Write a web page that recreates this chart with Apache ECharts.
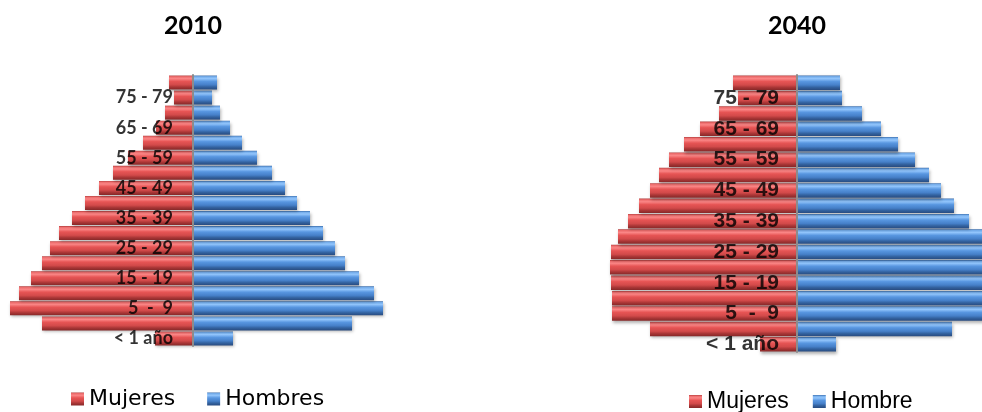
<!DOCTYPE html>
<html>
<head>
<meta charset="utf-8">
<script src="https://cdn.jsdelivr.net/npm/echarts@6/dist/echarts.min.js"></script>
<style>
  html, body { margin: 0; padding: 0; background: #ffffff; }
  #chart { width: 982px; height: 412px; }
</style>
</head>
<body>
<div id="chart"></div>
<script>
// Age groups, youngest at the bottom of each pyramid
const ageGroups = ['< 1 año', '1 - 4', '5  -  9', '10 - 14', '15 - 19', '20 - 24', '25 - 29',
  '30 - 34', '35 - 39', '40 - 44', '45 - 49', '50 - 54', '55 - 59', '60 - 64',
  '65 - 69', '70 - 74', '75 - 79', '80 +'];

// Population by age group (thousands)
const mujeres2010 = [38, 151, 183, 174, 162, 151, 143, 134, 121, 108, 94, 80, 65, 50, 37, 28, 19, 24];
const hombres2010 = [40, 159, 193, 181, 166, 152, 142, 130, 117, 104, 92, 79, 64, 49, 37, 27, 19, 24];
const mujeres2040 = [37, 147, 185, 185, 186, 187, 186, 179, 169, 158, 147, 138, 128, 113, 97, 78, 59, 64];
const hombres2040 = [39, 155, 191, 192, 194, 195, 193, 186, 172, 157, 144, 132, 118, 101, 84, 65, 45, 43];

const years = ['2010', '2040'];

// Bevelled look: light stripe near the top edge, darker band at the bottom
const G = echarts.graphic.LinearGradient;
const redFill = new G(0, 0, 0, 1, [
  { offset: 0, color: '#b03c3c' },
  { offset: 0.08, color: '#ec6c6c' },
  { offset: 0.22, color: '#fb8686' },
  { offset: 0.42, color: '#e65454' },
  { offset: 0.66, color: '#d24a4a' },
  { offset: 0.82, color: '#a93636' },
  { offset: 1, color: '#862828' }
]);
const blueFill = new G(0, 0, 0, 1, [
  { offset: 0, color: '#386aa8' },
  { offset: 0.08, color: '#74acea' },
  { offset: 0.22, color: '#92c5fc' },
  { offset: 0.42, color: '#5896e0' },
  { offset: 0.66, color: '#4680c9' },
  { offset: 0.82, color: '#33629f' },
  { offset: 1, color: '#284b80' }
]);

const shadow = { shadowColor: 'rgba(0,0,0,0.3)', shadowBlur: 3, shadowOffsetX: 1, shadowOffsetY: 2 };

const chart = echarts.init(document.getElementById('chart'), null, { renderer: 'canvas' });

function barSeries(name, values, sign, axisIdx, fill, width) {
  return {
    name: name,
    type: 'bar',
    xAxisIndex: axisIdx,
    yAxisIndex: axisIdx,
    barWidth: width,
    barGap: '-100%',
    data: values.map(v => sign * v),
    itemStyle: Object.assign({ color: fill }, shadow),
    emphasis: { disabled: true },
    silent: true,
    z: 2
  };
}

// Age-group labels drawn just left of the centre line, every other group
function labelSeries(axisIdx, distance, font) {
  return {
    name: 'etiquetas' + axisIdx,
    type: 'scatter',
    xAxisIndex: axisIdx,
    yAxisIndex: axisIdx,
    symbolSize: 0,
    silent: true,
    z: 10,
    data: ageGroups.map((g, i) => (i % 2 === 0 ? [0, i] : null)).filter(d => d),
    label: {
      show: true,
      position: 'left',
      distance: distance,
      formatter: p => ageGroups[p.data[1]],
      color: '#000',
      fontFamily: font.family,
      fontWeight: 'bold',
      fontSize: font.size
    }
  };
}

const option = {
  animation: false,
  backgroundColor: '#ffffff',
  graphic: [
    { type: 'text', x: 193, y: 13, style: { text: years[0], fill: '#000', font: 'bold 25px Lato', textAlign: 'center' } },
    { type: 'text', x: 797, y: 13, style: { text: years[1], fill: '#000', font: 'bold 25px Lato', textAlign: 'center' } }
  ],
  legend: [
    {
      data: ['Mujeres', 'Hombres'],
      left: 71, top: 388, padding: 0,
      itemWidth: 13, itemHeight: 13, itemGap: 32,
      icon: 'rect',
      textStyle: { fontFamily: 'DejaVu Sans', fontSize: 22, color: '#000' }
    },
    {
      data: ['Mujeres', 'Hombre'],
      left: 689, top: 390, padding: 0,
      itemWidth: 13, itemHeight: 13, itemGap: 24,
      icon: 'rect',
      textStyle: { fontFamily: 'Liberation Sans', fontSize: 23, color: '#000' }
    }
  ],
  grid: [
    { left: 3, width: 380, top: 75, height: 271, outerBoundsMode: 'none', containLabel: false },
    { left: 597, width: 400, top: 75, height: 277, outerBoundsMode: 'none', containLabel: false }
  ],
  xAxis: [
    { gridIndex: 0, type: 'value', min: -190, max: 190, show: false },
    { gridIndex: 1, type: 'value', min: -200, max: 200, show: false }
  ],
  yAxis: [
    {
      gridIndex: 0, type: 'category', data: ageGroups, z: 9,
      axisLine: { onZero: true, lineStyle: { color: '#8c8c8c', width: 2 } },
      axisTick: { show: false },
      axisLabel: { show: false }
    },
    {
      gridIndex: 1, type: 'category', data: ageGroups, z: 9,
      axisLine: { onZero: true, lineStyle: { color: '#8c8c8c', width: 2 } },
      axisTick: { show: false },
      axisLabel: { show: false }
    }
  ],
  series: [
    barSeries('Mujeres', mujeres2010, -1, 0, redFill, 14),
    barSeries('Hombres', hombres2010, 1, 0, blueFill, 14),
    barSeries('Mujeres', mujeres2040, -1, 1, redFill, 14.5),
    barSeries('Hombre', hombres2040, 1, 1, blueFill, 14.5),
    labelSeries(0, 20, { family: 'Lato', size: 18 }),
    labelSeries(1, 18, { family: 'Liberation Sans', size: 21 })
  ]
};

chart.setOption(option);
</script>
</body>
</html>
